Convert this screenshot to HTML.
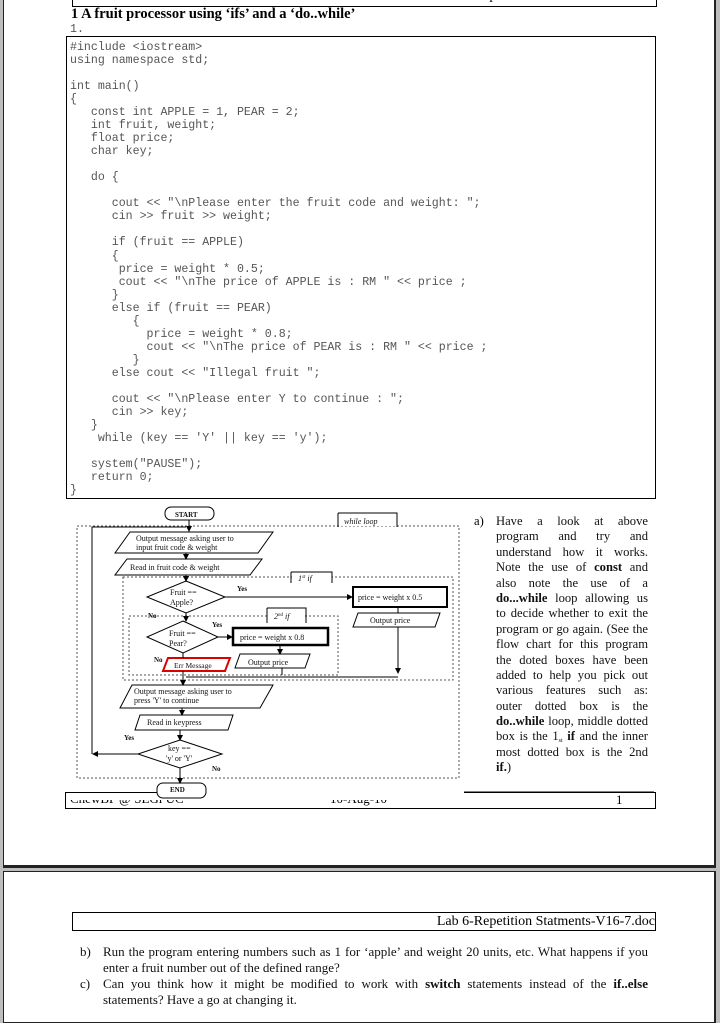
<!DOCTYPE html>
<html><head><meta charset="utf-8"><style>
body{margin:0;width:720px;height:1013px;background:#bdbdbd;position:relative;overflow:hidden;font-family:"Liberation Serif",serif;}
.pg{position:absolute;background:#fff;border:1px solid #222;}
.abs{position:absolute;}
pre{margin:0;font-family:"Liberation Mono",monospace;font-size:11.6px;line-height:13.03px;color:#555;}
.a{font-size:12.6px;line-height:15.4px;color:#111;}
.a div{height:15.4px;text-align:justify;text-align-last:justify;white-space:nowrap;}
.a div.l{text-align-last:left;}
.b{font-size:13px;line-height:16px;color:#111;}
.b div{text-align:justify;text-align-last:justify;white-space:nowrap;}
.b div.l{text-align-last:left;}
</style></head><body>
<div class="pg" style="left:3px;top:-5px;width:710px;height:869px;border-right:2px solid #222;border-bottom:3px solid #222;"></div>
<div class="pg" style="left:3px;top:871px;width:710px;height:150px;border-right:2px solid #222;"></div>

<div class="abs" style="left:72px;top:-12px;width:582px;height:17px;border:1px solid #000;font-size:14px;text-align:right;line-height:14px;padding-right:1px;">Lab 6-Repetition Statments-V16-7.doc</div>
<div class="abs" style="left:71px;top:6px;font-size:14.5px;font-weight:bold;">1 A fruit processor using ‘ifs’ and a ‘do..while’</div>
<pre class="abs" style="left:70px;top:23px;">1.</pre>
<div class="abs" style="left:66px;top:36px;width:588px;height:461px;border:1px solid #000;"></div>
<pre class="abs" style="left:70px;top:41px;">#include &lt;iostream&gt;
using namespace std;

int main()
{
   const int APPLE = 1, PEAR = 2;
   int fruit, weight;
   float price;
   char key;

   do {

      cout &lt;&lt; "\nPlease enter the fruit code and weight: ";
      cin &gt;&gt; fruit &gt;&gt; weight;

      if (fruit == APPLE)
      {
       price = weight * 0.5;
       cout &lt;&lt; "\nThe price of APPLE is : RM " &lt;&lt; price ;
      }
      else if (fruit == PEAR)
         {
           price = weight * 0.8;
           cout &lt;&lt; "\nThe price of PEAR is : RM " &lt;&lt; price ;
         }
      else cout &lt;&lt; "Illegal fruit ";

      cout &lt;&lt; "\nPlease enter Y to continue : ";
      cin &gt;&gt; key;
   }
    while (key == 'Y' || key == 'y');

   system("PAUSE");
   return 0;
}</pre>

<div class="abs" style="left:65px;top:792px;width:589px;height:15px;border:1px solid #000;"></div>
<div class="abs" style="left:66px;top:800px;width:587px;height:8px;overflow:hidden;">
 <div class="abs" style="left:4px;top:-9px;font-size:13px;">ChewBP @ SEGi UC</div>
 <div class="abs" style="left:264px;top:-9px;font-size:13px;">10-Aug-10</div>
</div>
<div class="abs" style="left:616px;top:792px;font-size:13px;">1</div>

<svg class="abs" style="left:0;top:0" width="720" height="1013" font-family="Liberation Serif, serif">
<defs><marker id="ar" markerWidth="6" markerHeight="6" refX="5" refY="3" orient="auto"><path d="M0,0 L6,3 L0,6z" fill="#000"/></marker></defs>
<rect x="158" y="505" width="306" height="295" fill="#fff"/>
<rect x="66" y="505" width="100" height="287" fill="#fff"/>
<g fill="none" stroke="#555" stroke-dasharray="2,2" stroke-width="1">
<rect x="77" y="526" width="382" height="252"/>
<rect x="123" y="577" width="330" height="103"/>
<rect x="129" y="616" width="209" height="59"/>
</g>
<g stroke="#000" stroke-width="1" fill="#fff">
<rect x="165" y="507" width="49" height="13" rx="6"/>
<path d="M338,513 V527 M338,513 H397 V527" fill="none"/>
<rect x="339" y="514" width="57" height="12" stroke="none"/>
<rect x="292" y="573" width="40" height="10" stroke="none"/>
<path d="M291,572 H332 V583 M291,572 V583" fill="none"/>
<rect x="268" y="609" width="37" height="13" stroke="none"/>
<path d="M267,608 H306 V623 M267,608 V623" fill="none"/>
<path d="M130,532 H273 L258,553 H115 Z"/>
<path d="M127,559 H262 L250,575 H115 Z"/>
<path d="M186,581 L225,597 L186,613 L147,597 Z"/>
<rect x="353" y="587" width="94" height="20" stroke-width="2"/>
<path d="M358,613 H440 L435,627 H353 Z"/>
<path d="M183,621 L218,637 L183,653 L147,637 Z"/>
<rect x="233" y="628" width="95" height="17" stroke-width="2.5"/>
<path d="M240,654 H310 L305,668 H235 Z"/>
<path d="M168,658 H230 L225,671 H163 Z" stroke="#d00" stroke-width="2"/>
<path d="M132,685 H273 L260,708 H120 Z"/>
<path d="M140,715 H233 L228,730 H135 Z"/>
<path d="M180,740 L222,754 L180,768 L138,754 Z"/>
<rect x="157" y="783" width="49" height="15" rx="6"/>
</g>
<g stroke="#000" stroke-width="1" fill="none">
<path d="M189,520 V531" marker-end="url(#ar)"/>
<path d="M92,754 V527 H186" />
<path d="M186,553 V559" marker-end="url(#ar)"/>
<path d="M186,575 V581" marker-end="url(#ar)"/>
<path d="M225,597 H352" marker-end="url(#ar)"/>
<path d="M398,607 V613"/>
<path d="M398,627 V673" marker-end="url(#ar)"/>
<path d="M398,677 H186"/>
<path d="M186,613 V621" marker-end="url(#ar)"/>
<path d="M218,637 H232" marker-end="url(#ar)"/>
<path d="M280,645 V654" marker-end="url(#ar)"/>
<path d="M282,668 V675"/>
<path d="M183,653 V658"/>
<path d="M183,671 V685" marker-end="url(#ar)"/>
<path d="M182,708 V715" marker-end="url(#ar)"/>
<path d="M180,730 V740" marker-end="url(#ar)"/>
<path d="M138,754 H93" marker-end="url(#ar)"/>
<path d="M180,768 V783" marker-end="url(#ar)"/>
<path d="M464,792 H654" />
</g>
<g font-size="8" fill="#111">
<text x="175" y="517" font-weight="bold" font-size="7">START</text>
<text x="344" y="524" font-style="italic">while loop</text>
<text x="136" y="541">Output message asking user to</text>
<text x="136" y="550">input fruit code &amp; weight</text>
<text x="130" y="570">Read in fruit code &amp; weight</text>
<text x="298" y="581" font-style="italic">1<tspan font-size="5" dy="-3">st</tspan><tspan dy="3"> if</tspan></text>
<text x="170" y="595">Fruit ==</text>
<text x="170" y="605">Apple?</text>
<text x="237" y="591" font-weight="bold" font-size="7">Yes</text>
<text x="358" y="600">price = weight x 0.5</text>
<text x="370" y="623">Output price</text>
<text x="148" y="618" font-weight="bold" font-size="7">No</text>
<text x="274" y="619" font-style="italic">2<tspan font-size="5" dy="-3">nd</tspan><tspan dy="3"> if</tspan></text>
<text x="169" y="636">Fruit ==</text>
<text x="169" y="646">Pear?</text>
<text x="212" y="627" font-weight="bold" font-size="7">Yes</text>
<text x="240" y="640">price = weight x 0.8</text>
<text x="248" y="665">Output price</text>
<text x="154" y="662" font-weight="bold" font-size="7">No</text>
<text x="174" y="668" font-size="7.5">Err Message</text>
<text x="134" y="694">Output message asking user to</text>
<text x="134" y="703">press 'Y' to continue</text>
<text x="147" y="725">Read in keypress</text>
<text x="124" y="740" font-weight="bold" font-size="7">Yes</text>
<text x="168" y="751">key ==</text>
<text x="166" y="761">'y' or 'Y'</text>
<text x="212" y="771" font-weight="bold" font-size="7">No</text>
<text x="170" y="792" font-weight="bold" font-size="7">END</text>
</g>
</svg>

<div class="abs" style="left:474px;top:514px;font-size:12.6px;">a)</div>
<div class="abs a" style="left:496px;top:514px;width:152px;">
<div>Have a look at above</div>
<div>program and try and</div>
<div>understand how it works.</div>
<div>Note the use of <b>const</b> and</div>
<div>also note the use of a</div>
<div><b>do...while</b> loop allowing us</div>
<div>to decide whether to exit the</div>
<div>program or go again. (See the</div>
<div>flow chart for this program</div>
<div>the doted boxes have been</div>
<div>added to help you pick out</div>
<div>various features such as:</div>
<div>outer dotted box is the</div>
<div><b>do..while</b> loop, middle dotted</div>
<div>box is the 1<span style="font-size:6px;line-height:0;vertical-align:-2px">st</span> <b>if</b> and the inner</div>
<div>most dotted box is the 2nd</div>
<div class="l"><b>if.</b>)</div>
</div>

<div class="abs" style="left:72px;top:912px;width:582px;height:17px;border:1px solid #000;font-size:14px;text-align:right;line-height:17px;">Lab 6-Repetition Statments-V16-7.doc</div>
<div class="abs b" style="left:80px;top:944px;">b)<br><br>c)</div>
<div class="abs b" style="left:103px;top:944px;width:545px;">
<div>Run the program entering numbers such as 1 for ‘apple’ and weight 20 units, etc. What happens if you</div>
<div class="l">enter a fruit number out of the defined range?</div>
<div>Can you think how it might be modified to work with <b>switch</b> statements instead of the <b>if..else</b></div>
<div class="l">statements? Have a go at changing it.</div>
</div>
</body></html>
